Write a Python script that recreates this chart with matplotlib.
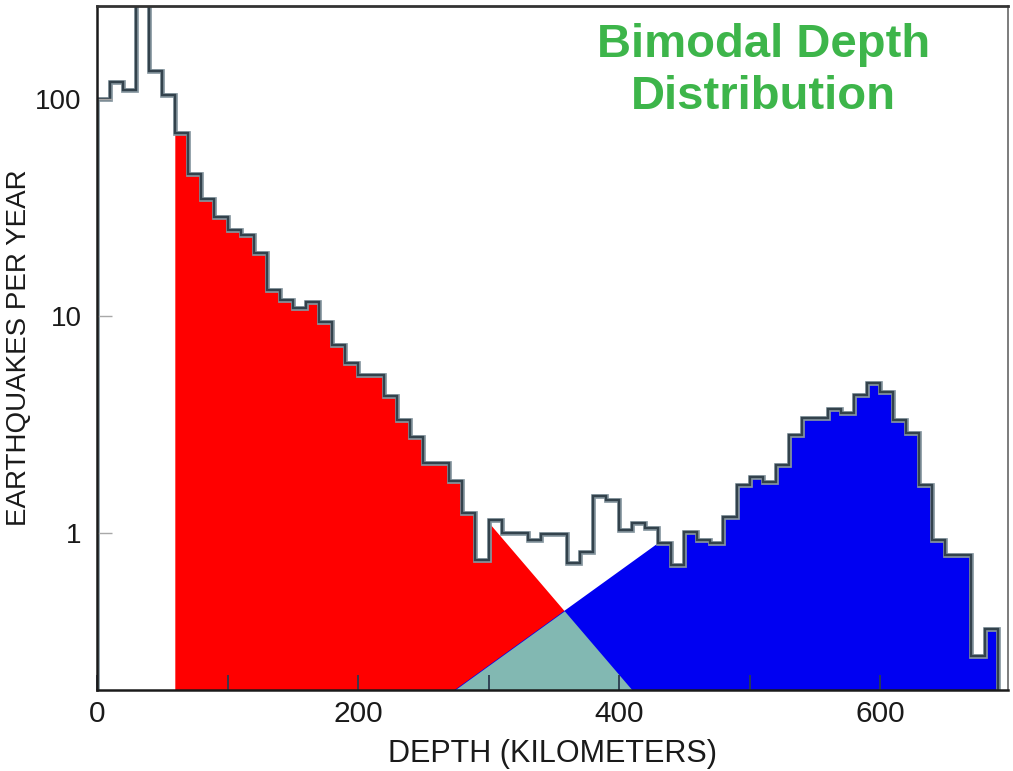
import numpy as np
import matplotlib.pyplot as plt

plt.rcParams['font.family'] = ['Liberation Sans', 'DejaVu Sans']

# earthquakes per year in 10 km depth bins, 0-690 km
bin_width = 10
rates = [100, 120, 110, 400, 134, 104, 70, 45, 34.6, 28.6,
         24.9, 23.6, 19.5, 13.2, 11.9, 10.9, 11.6, 9.4, 7.35, 6.07,
         5.35, 5.35, 4.28, 3.31, 2.77, 2.1, 2.1, 1.74, 1.24, 0.75,
         1.15, 1.0, 1.0, 0.93, 0.99, 0.99, 0.73, 0.82, 1.48, 1.42,
         1.03, 1.11, 1.05, 0.90, 0.71, 1.01, 0.93, 0.90, 1.18, 1.66,
         1.81, 1.72, 2.06, 2.83, 3.39, 3.39, 3.73, 3.57, 4.33, 4.91,
         4.46, 3.31, 2.89, 1.66, 0.93, 0.79, 0.79, 0.27, 0.36]
edges = np.arange(len(rates) + 1) * bin_width

# shallow population: starts at 60 km, tail drawn as a straight (log) line
shallow_start = 60
shallow_tail_depth = [307, 410]
shallow_tail_rate = [1.0, 0.189]
# deep population: head drawn as a straight (log) line up to 430 km
deep_head_depth = [274, 428]
deep_head_rate = [0.189, 0.88]

ymin, ymax = 0.189, 268

fig = plt.figure(figsize=(10.13, 7.71), dpi=100)
ax = fig.add_axes([97/1013, 1-690/771, 911/1013, 684/771])
ax.set_yscale('log')

x = np.linspace(shallow_start, edges[-1], 6301)
idx = np.clip(np.searchsorted(edges, x, side='right') - 1, 0, len(rates) - 1)
h = np.array(rates)[idx]

def logline(xs, d, r):
    lr = np.log10(r)
    return 10 ** (lr[0] + (xs - d[0]) * (lr[1] - lr[0]) / (d[1] - d[0]))

sl = logline(x, shallow_tail_depth, shallow_tail_rate)
red_top = np.where(x < 300, h, np.minimum(h, sl))
dl = logline(x, deep_head_depth, deep_head_rate)
blue_top = np.where(x < deep_head_depth[0], 1e-3,
                    np.where(x < 430, np.minimum(h, dl), h))
both = np.minimum(red_top, blue_top)

base = 1e-3
ax.fill_between(x, base, red_top, color='#ff0000', lw=0)
ax.fill_between(x, base, blue_top, color='#0000f2', lw=0)
ax.fill_between(x, base, both, color='#82b8b2', lw=0)

# histogram outline with a soft halo
ax.stairs(rates, edges, baseline=1e-3, color='#8797a0', lw=3.4)
ax.stairs(rates, edges, baseline=1e-3, color='#33424c', lw=1.7)

ax.set_xlim(0, 698)
ax.set_ylim(ymin, ymax)

ax.set_xticks([0, 200, 400, 600])
ax.set_xticks([100, 300, 500], minor=True)
ax.set_yticks([1, 10, 100])
ax.set_yticklabels(['1', '10', '100'])
ax.yaxis.set_minor_locator(plt.NullLocator())
ax.tick_params(axis='x', which='both', direction='in', length=11, width=1.3,
               color='#2b3b4f', labelsize=21.5, pad=7, labelcolor='#1a1a1a')
ax.tick_params(axis='y', which='major', direction='in', length=11, width=1.0,
               color='#a8a8a8', labelsize=20, pad=11, labelcolor='#1a1a1a')

for side in ['left', 'bottom']:
    ax.spines[side].set_linewidth(1.8)
    ax.spines[side].set_color('#1a1a1a')
ax.spines['top'].set_linewidth(2.0)
ax.spines['top'].set_color('#333333')
ax.spines['right'].set_linewidth(1.2)
ax.spines['right'].set_color('#666666')

ax.set_xlabel('DEPTH (KILOMETERS)', fontsize=22, color='#1a1a1a', labelpad=8)
ax.set_ylabel('EARTHQUAKES PER YEAR', fontsize=20, color='#1a1a1a', labelpad=2)

ax.text(0.732, 0.905, 'Bimodal Depth\nDistribution', transform=ax.transAxes,
        ha='center', va='center', fontsize=34, fontweight='bold',
        color='#3db54a', linespacing=1.22)

fig.savefig('out.png', dpi=100)
